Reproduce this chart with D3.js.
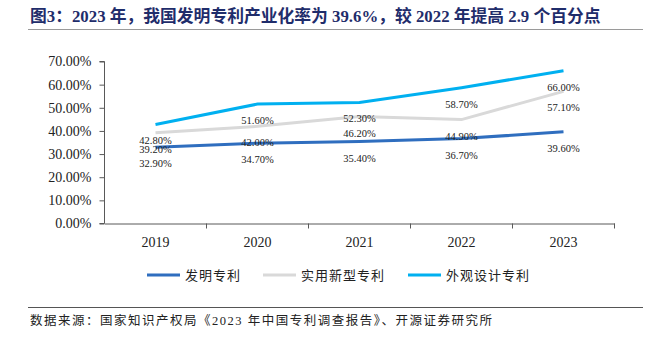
<!DOCTYPE html>
<html>
<head>
<meta charset="utf-8">
<script src="https://cdn.jsdelivr.net/npm/d3@7"></script>
<style>
  body { margin: 0; background: #fff; }
  svg { display: block; }
</style>
</head>
<body>
<script>
'use strict';

// years on the x axis
const years = ['2019', '2020', '2021', '2022', '2023'];
// industrialization rate (%) per patent type
const invention = [32.9, 34.7, 35.4, 36.7, 39.6];
const utility = [39.2, 42.0, 46.2, 44.9, 57.1];
const design = [42.8, 51.6, 52.3, 58.7, 66.0];
const seriesNames = ['发明专利', '实用新型专利', '外观设计专利'];
const yTicks = [0, 10, 20, 30, 40, 50, 60, 70];

const colors = ['#2f6ebf', '#d9d9d9', '#00b0f0'];
const serif = '"Liberation Serif", "Times New Roman", serif';
const cjk = '"Liberation Serif", "Noto Sans CJK SC", sans-serif';

const svg = d3.select('body').append('svg')
  .attr('width', 654)
  .attr('height', 340);

// title and rules
svg.append('text')
  .attr('x', 30)
  .attr('y', 22)
  .style('font-family', cjk)
  .style('font-size', '16.8px')
  .style('font-weight', 'bold')
  .attr('fill', '#1f2d6b')
  .text('图3：2023 年，我国发明专利产业化率为 39.6%，较 2022 年提高 2.9 个百分点');

svg.append('line')
  .attr('x1', 28).attr('x2', 643)
  .attr('y1', 29.5).attr('y2', 29.5)
  .attr('stroke', '#9a9a9a')
  .attr('stroke-width', 1);

svg.append('line')
  .attr('x1', 28).attr('x2', 643)
  .attr('y1', 307.5).attr('y2', 307.5)
  .attr('stroke', '#555')
  .attr('stroke-width', 1);

svg.append('text')
  .attr('x', 30)
  .attr('y', 325)
  .style('font-family', cjk)
  .style('font-size', '12.5px')
  .style('letter-spacing', '1.5px')
  .attr('fill', '#222')
  .text('数据来源：国家知识产权局《2023 年中国专利调查报告》、开源证券研究所');

// scales
const x = d3.scaleBand().domain(years).range([104.5, 614.5]);
const y = d3.scaleLinear().domain([0, 70]).range([223.5, 61.5]);

// y axis
const yAxis = svg.append('g')
  .attr('transform', 'translate(104.5,0)')
  .call(d3.axisLeft(y).tickValues(yTicks).tickSize(5).tickPadding(8)
    .tickFormat(d => d.toFixed(2) + '%'));
yAxis.select('.domain').attr('stroke', '#595959').attr('d', 'M-5,61.5H0V223.5H-5');
yAxis.selectAll('.tick line').attr('stroke', '#595959');
yAxis.selectAll('.tick text')
  .style('font-family', serif)
  .style('font-size', '14px')
  .attr('fill', '#222');

// x axis
const xAxis = svg.append('g')
  .attr('transform', 'translate(0,223.5)')
  .call(d3.axisBottom(x).tickSize(0).tickPadding(14));
xAxis.select('.domain').attr('stroke', '#595959');
xAxis.selectAll('.tick text')
  .style('font-family', serif)
  .style('font-size', '14px')
  .attr('fill', '#222');

// category boundary ticks
svg.append('g').selectAll('line')
  .data(years)
  .join('line')
  .attr('x1', d => x(d) + x.bandwidth())
  .attr('x2', d => x(d) + x.bandwidth())
  .attr('y1', 223.5).attr('y2', 228.5)
  .attr('stroke', '#595959');

const center = d => x(d) + x.bandwidth() / 2;
const line = d3.line()
  .x((d, i) => center(years[i]))
  .y(d => y(d));

const allSeries = [invention, utility, design];

// lines
svg.append('g').selectAll('path')
  .data(allSeries)
  .join('path')
  .attr('d', line)
  .attr('fill', 'none')
  .attr('stroke', (d, i) => colors[i])
  .attr('stroke-width', 3);

// value labels sit just below each point
allSeries.forEach((vals, si) => {
  svg.append('g').selectAll('text')
    .data(vals)
    .join('text')
    .attr('x', (d, i) => center(years[i]))
    .attr('y', d => y(d) + 20)
    .attr('text-anchor', 'middle')
    .style('font-family', serif)
    .style('font-size', '10.5px')
    .attr('fill', '#222')
    .text(d => d.toFixed(2) + '%');
});

// legend
const legendX = [147, 263, 408];
const legend = svg.append('g').selectAll('g')
  .data(seriesNames)
  .join('g')
  .attr('transform', (d, i) => `translate(${legendX[i]},275)`);
legend.append('line')
  .attr('x1', 0).attr('x2', 33)
  .attr('stroke', (d, i) => colors[i])
  .attr('stroke-width', 3);
legend.append('text')
  .attr('x', 38)
  .attr('y', 4.5)
  .style('font-family', cjk)
  .style('font-size', '13px')
  .style('letter-spacing', '1px')
  .attr('fill', '#222')
  .text(d => d);
</script>
</body>
</html>
